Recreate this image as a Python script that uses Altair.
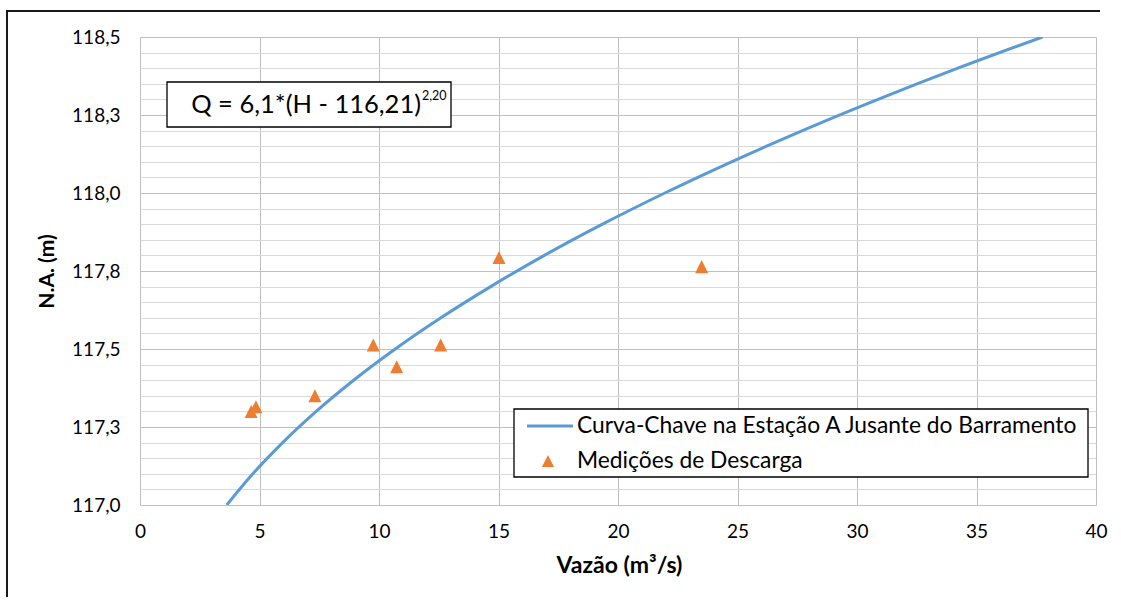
import altair as alt
import pandas as pd

# Rating curve (discharge Q in m3/s, stage H in m)
curve_H = [117.0, 117.1, 117.2, 117.3, 117.4, 117.5, 117.6, 117.7, 117.8, 117.9,
           118.0, 118.1, 118.2, 118.3, 118.4, 118.5]
curve_Q = [3.63, 4.72, 5.97, 7.37, 8.94, 10.68, 12.59, 14.67, 16.92, 19.35,
           21.96, 24.75, 27.72, 30.88, 34.22, 37.76]

# Discharge measurements
meas_Q = [4.65, 4.85, 7.32, 9.76, 10.74, 12.58, 15.02, 23.5]
meas_H = [117.30, 117.315, 117.35, 117.513, 117.443, 117.513, 117.793, 117.764]

x_ticks = [0, 5, 10, 15, 20, 25, 30, 35, 40]
y_ticks = [round(117.0 + 0.05 * i, 2) for i in range(31)]

series_line = "Curva-Chave na Estação A Jusante do Barramento"
series_pts = "Medições de Descarga"
equation = "Q = 6,1*(H - 116,21)"
equation_exp = "2,20"

curve_df = pd.DataFrame({"Q": curve_Q, "H": curve_H})
meas_df = pd.DataFrame({"Q": meas_Q, "H": meas_H})
dummy = pd.DataFrame({"k": [0]})

FONT = "Lato"
BLUE = "#5B9BD5"
ORANGE = "#ED7D31"
TRI = "M0,-1L1,1L-1,1Z"

major_test = "abs(datum.value*4 - round(datum.value*4)) < 0.01"

x_enc = alt.X("Q:Q",
              scale=alt.Scale(domain=[0, 40], nice=False, zero=False),
              axis=alt.Axis(values=x_ticks, format="d", grid=True, gridColor="#BFBFBF",
                            ticks=False, domain=False, labelPadding=17, labelFlush=False,
                            labelFont=FONT, labelFontSize=19, labelColor="#000000",
                            title="Vazão (m³/s)", titleFont=FONT, titleFontSize=23,
                            titleFontWeight="bold", titleColor="#000000",
                            titleX=479, titleY=60, titleBaseline="middle",
                            titleAlign="center"))
y_enc = alt.Y("H:Q",
              scale=alt.Scale(domain=[117.0, 118.5], nice=False, zero=False),
              axis=alt.Axis(values=y_ticks, grid=True,
                            gridColor={"condition": {"test": major_test, "value": "#BFBFBF"},
                                       "value": "#D9D9D9"},
                            labelExpr=major_test + " ? replace(format(datum.value, '.1f'), '.', ',') : ''",
                            labelOverlap=False, labelBound=False, labelFlush=False,
                            ticks=False, domain=False, labelPadding=20,
                            labelFont=FONT, labelFontSize=19, labelColor="#000000",
                            title="N.A. (m)", titleFont=FONT, titleFontSize=21,
                            titleFontWeight="bold", titleColor="#000000",
                            titleX=-93, titleY=234, titleAngle=270,
                            titleBaseline="middle", titleAlign="center"))

line = alt.Chart(curve_df).mark_line(color=BLUE, strokeWidth=3, interpolate="monotone",
                                     clip=True).encode(x=x_enc, y=y_enc)
pts = alt.Chart(meas_df).mark_point(shape=TRI, filled=True, color=ORANGE, opacity=1,
                                    size=170).encode(x=x_enc, y=y_enc)

base = alt.Chart(dummy)

# outer chart-area frame: only its left and top edges fall inside the picture
border_left = base.mark_rule(color="#1a1a1a", strokeWidth=2).encode(
    x=alt.value(-133), y=alt.value(-27), y2=alt.value(560))
border_top = base.mark_rule(color="#1a1a1a", strokeWidth=2).encode(
    x=alt.value(-134), x2=alt.value(960), y=alt.value(-26))

eq_box = base.mark_rect(fill="white", stroke="#000000", strokeWidth=1.3).encode(
    x=alt.value(27), x2=alt.value(311), y=alt.value(45), y2=alt.value(90))
eq_text = base.mark_text(font=FONT, fontSize=25.5, align="right", baseline="middle",
                         color="#000000").encode(
    x=alt.value(281), y=alt.value(68), text=alt.value(equation))
eq_sup = base.mark_text(font=FONT, fontSize=12.5, align="left", baseline="middle",
                        color="#000000").encode(
    x=alt.value(282), y=alt.value(59), text=alt.value(equation_exp))

leg_box = base.mark_rect(fill="white", stroke="#000000", strokeWidth=1.3).encode(
    x=alt.value(374), x2=alt.value(948), y=alt.value(372), y2=alt.value(440))
leg_line = base.mark_rule(color=BLUE, strokeWidth=3).encode(
    x=alt.value(387), x2=alt.value(433), y=alt.value(389))
leg_tri = base.mark_point(shape=TRI, filled=True, color=ORANGE, opacity=1, size=150).encode(
    x=alt.value(408), y=alt.value(424))
leg_t1 = base.mark_text(font=FONT, fontSize=22.8, align="left", baseline="middle",
                        color="#000000").encode(
    x=alt.value(437), y=alt.value(389), text=alt.value(series_line))
leg_t2 = base.mark_text(font=FONT, fontSize=22.8, align="left", baseline="middle",
                        color="#000000").encode(
    x=alt.value(437), y=alt.value(424), text=alt.value(series_pts))

chart = alt.layer(border_left, border_top, line, pts, eq_box, eq_text, eq_sup,
                  leg_box, leg_line, leg_tri, leg_t1, leg_t2).properties(
    width=956, height=468,
    autosize=alt.AutoSizeParams(type="none"),
    padding={"left": 140, "top": 37, "right": 25, "bottom": 96},
    background="white",
).configure_view(stroke=None)

chart.save("out.html", embed_options={"renderer": "svg", "actions": False})
